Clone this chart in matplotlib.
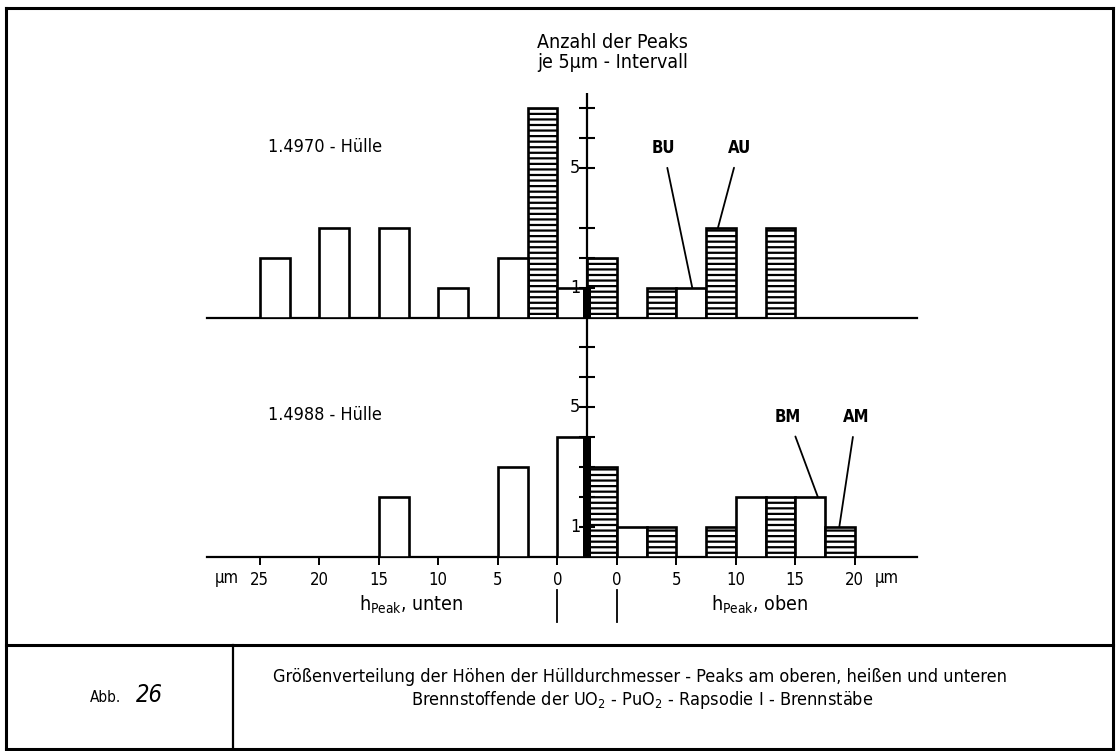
import matplotlib
matplotlib.use("Agg")
import matplotlib.pyplot as plt
from matplotlib.lines import Line2D

plt.rcParams["font.family"] = ["DejaVu Sans"]
plt.rcParams["font.stretch"] = "condensed"
plt.rcParams["hatch.linewidth"] = 1.6
plt.rcParams["mathtext.default"] = "regular"

# ---- data: number of peaks per 5-um interval ----
bin_starts = [0, 5, 10, 15, 20]          # lower edge of each 5-um interval (um)
tick_unten = [25, 20, 15, 10, 5, 0]
tick_oben = [0, 5, 10, 15, 20]

# 1.4970 cladding
s1_unten_B = [2, 1, 3, 3, 2]
s1_unten_A = [7, 0, 0, 0, 0]
s1_heiss_B = 1
s1_heiss_A = 2
s1_oben_B = [0, 1, 0, 0]
s1_oben_A = [1, 3, 3, 0]

# 1.4988 cladding
s2_unten_B = [3, 0, 2, 0, 0]
s2_unten_A = [0, 0, 0, 0, 0]
s2_heiss_B = 4
s2_heiss_A = 3
s2_oben_B = [1, 0, 2, 2]
s2_oben_A = [1, 1, 2, 1]

# ---- layout ----
W, H = 1119, 751
PX_UM = 11.9          # pixels per micrometre
AX_PX = 587           # position of the count axis
GAP = 2.5             # half width of the hot-end zone in um
HALF = 2.5            # width of one bar (um)

fig = plt.figure(figsize=(W / 100, H / 100), dpi=100)
fig.patch.set_facecolor("white")


def fx(px):
    return px / W


def fy(py):
    return 1 - py / H


x_lo = (207 - AX_PX) / PX_UM
x_hi = (917 - AX_PX) / PX_UM

ax_top = fig.add_axes([fx(207), fy(318), fx(917) - fx(207), (318 - 93) / H])
ax_bot = fig.add_axes([fx(207), fy(557), fx(917) - fx(207), (557 - 318) / H])

EDGE = 1.9


def bar(ax, left, h, hatched):
    if h <= 0:
        return
    ax.bar(left, h, width=HALF, align="edge", facecolor="white",
           edgecolor="black", linewidth=EDGE,
           hatch="---" if hatched else None, zorder=3)


def draw_panel(ax, unten_B, unten_A, heiss_B, heiss_A, oben_B, oben_A,
               ymax, yticks):
    ax.set_xlim(x_lo, x_hi)
    ax.set_ylim(0, ymax)
    for sp in ["top", "right", "left"]:
        ax.spines[sp].set_visible(False)
    ax.spines["bottom"].set_linewidth(1.6)
    ax.set_yticks([])
    ax.patch.set_alpha(0)
    # lower fuel end: mirrored to the left
    for b, hB, hA in zip(bin_starts, unten_B, unten_A):
        bar(ax, -(GAP + b + HALF), hA, True)
        bar(ax, -(GAP + b + 2 * HALF), hB, False)
    # hot zone around the axis
    bar(ax, -GAP, heiss_B, False)
    bar(ax, 0, heiss_A, True)
    ax.bar(-0.3, heiss_B, width=0.6, align="edge", color="black",
           linewidth=0, zorder=4)
    # upper fuel end
    for b, hB, hA in zip(bin_starts, oben_B, oben_A):
        bar(ax, GAP + b, hB, False)
        bar(ax, GAP + b + HALF, hA, True)
    # count axis with cross ticks
    ax.axvline(0, color="black", linewidth=1.6, zorder=5)
    ax.plot([0] * len(yticks), yticks, linestyle="none", marker="_",
            markersize=12, markeredgewidth=1.5, color="black", zorder=6)
    for v in (5, 1):
        ax.text(-0.55, v, str(v), ha="right", va="center", fontsize=13,
                zorder=7)


draw_panel(ax_top, s1_unten_B, s1_unten_A, s1_heiss_B, s1_heiss_A,
           s1_oben_B, s1_oben_A, (318 - 93) / 30, [1, 2, 3, 5, 6, 7])
draw_panel(ax_bot, s2_unten_B, s2_unten_A, s2_heiss_B, s2_heiss_A,
           s2_oben_B, s2_oben_A, (557 - 318) / 30, [1, 2, 3, 4, 5, 6, 7])

ax_top.set_xticks([])
ax_top.spines["bottom"].set_zorder(2)

# distance axis: lower end to the left, upper end to the right
pos = [-(GAP + t) for t in tick_unten] + [GAP + t for t in tick_oben]
lab = [str(t) for t in tick_unten] + [str(t) for t in tick_oben]
ax_bot.set_xticks(pos)
ax_bot.set_xticklabels(lab, fontsize=12)
ax_bot.tick_params(axis="x", direction="out", length=6, width=1.4, pad=4)

ax_bot.text(-(GAP + 27.75), -0.7, "µm", ha="center", va="center", fontsize=12)
ax_bot.text(GAP + 22.7, -0.7, "µm", ha="center", va="center", fontsize=12)
ax_bot.text(-(GAP + 12.3), -1.6, r"$\mathregular{h_{Peak}}$, unten",
            ha="center", va="center", fontsize=14)
ax_bot.text(GAP + 12.0, -1.6, r"$\mathregular{h_{Peak}}$, oben",
            ha="center", va="center", fontsize=14)
for s in (-GAP, GAP):
    ax_bot.plot([s, s], [-1.1, -2.15], color="black", linewidth=1.3,
                clip_on=False)

# panel labels
ax_top.text(-22.0, 5.7, "1.4970 - Hülle", ha="center", va="center",
            fontsize=13)
ax_bot.text(-22.0, 4.73, "1.4988 - Hülle", ha="center", va="center",
            fontsize=13)

# bar annotations
arrow = dict(arrowstyle="-", color="black", linewidth=1.3,
             shrinkA=6, shrinkB=0)
lbl = dict(ha="center", va="center", fontsize=12, fontweight="bold",
           arrowprops=arrow)
ax_top.annotate("BU", xy=(GAP + 5 + 1.35, s1_oben_B[1]), xytext=(6.4, 5.67),
                **lbl)
ax_top.annotate("AU", xy=(GAP + 5 + HALF + 1.0, s1_oben_A[1]),
                xytext=(12.8, 5.67), **lbl)
ax_bot.annotate("BM", xy=(GAP + 15 + 1.9, s2_oben_B[3]), xytext=(16.9, 4.67),
                **lbl)
ax_bot.annotate("AM", xy=(GAP + 15 + HALF + 1.2, s2_oben_A[3]),
                xytext=(22.6, 4.67), **lbl)

# axis title
fig.text(fx(612), fy(42), "Anzahl der Peaks", ha="center", va="center",
         fontsize=14)
fig.text(fx(613), fy(63), "je 5µm - Intervall", ha="center", va="center",
         fontsize=14)

# drawing frame and caption block
frame = dict(color="black", linewidth=2.2, transform=fig.transFigure)
fig.add_artist(Line2D([fx(6), fx(1113)], [fy(8), fy(8)], **frame))
fig.add_artist(Line2D([fx(6), fx(6)], [fy(8), fy(749)], **frame))
fig.add_artist(Line2D([fx(1113), fx(1113)], [fy(8), fy(749)], **frame))
fig.add_artist(Line2D([fx(6), fx(1113)], [fy(749), fy(749)], **frame))
fig.add_artist(Line2D([fx(6), fx(1113)], [fy(645), fy(645)], **frame))
fig.add_artist(Line2D([fx(233), fx(233)], [fy(645), fy(749)], color="black",
                      linewidth=1.6, transform=fig.transFigure))

fig.text(fx(106), fy(698), "Abb.", ha="center", va="center", fontsize=11)
fig.text(fx(149), fy(695), "26", ha="center", va="center", fontsize=17,
         style="italic")
fig.text(fx(640), fy(677),
         "Größenverteilung der Höhen der Hülldurchmesser - Peaks am oberen, "
         "heißen und unteren", ha="center", va="center", fontsize=13)
fig.text(fx(642), fy(700),
         r"Brennstoffende der $\mathregular{UO_2}$ - $\mathregular{PuO_2}$"
         " - Rapsodie I - Brennstäbe", ha="center", va="center", fontsize=13)

fig.savefig("out.png", dpi=100, facecolor="white")
